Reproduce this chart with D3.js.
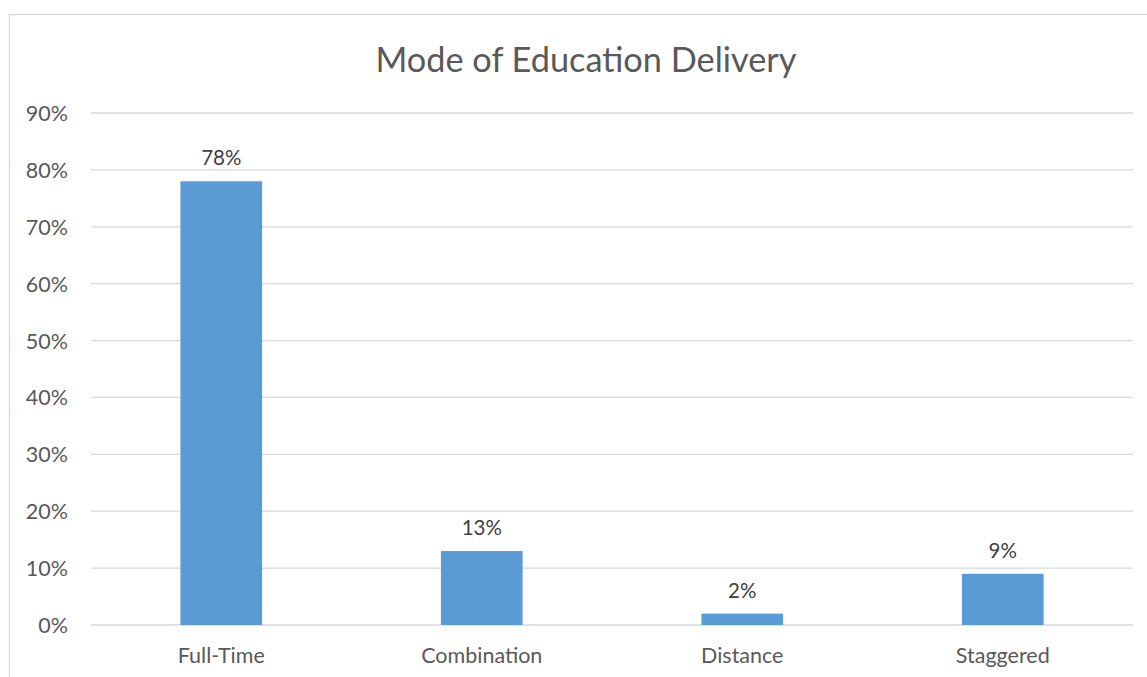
<!DOCTYPE html>
<html>
<head>
<meta charset="utf-8">
<script src="https://cdn.jsdelivr.net/npm/d3@7"></script>
<style>
  body { margin: 0; background: #fff; }
  svg { display: block; font-family: Lato, "Open Sans", sans-serif; }
</style>
</head>
<body>
<svg></svg>
<script>
const categories = ["Full-Time", "Combination", "Distance", "Staggered"];
const values = [78, 13, 2, 9];
const yTicks = [0, 10, 20, 30, 40, 50, 60, 70, 80, 90];

const width = 1147;
const height = 677;
const plotLeft = 91;
const plotRight = 1133;
const plotTop = 113;
const plotBottom = 625;

const svg = d3.select("svg").attr("width", width).attr("height", height);

// chart frame (right and bottom edges run off the picture)
svg.append("rect")
  .attr("x", 9.5).attr("y", 14.5)
  .attr("width", 1200).attr("height", 700)
  .attr("fill", "#fff")
  .attr("stroke", "#d9d9d9")
  .attr("stroke-width", 1.3);

const xScale = d3.scaleBand()
  .domain(categories)
  .range([plotLeft, plotRight])
  .paddingInner(0.6865)
  .paddingOuter(0.3433);

const yScale = d3.scaleLinear()
  .domain([0, 90])
  .range([plotBottom, plotTop]);

// gridlines
svg.append("g")
  .selectAll("line")
  .data(yTicks)
  .enter()
  .append("line")
  .attr("x1", plotLeft)
  .attr("x2", plotRight)
  .attr("y1", (d) => yScale(d))
  .attr("y2", (d) => yScale(d))
  .attr("stroke", "#d9d9d9")
  .attr("stroke-width", 1.3);

// y axis labels
const yAxis = d3.axisLeft(yScale).tickValues(yTicks).tickFormat((d) => d + "%").tickSize(0).tickPadding(0);
const yG = svg.append("g")
  .attr("transform", "translate(68, 0)")
  .call(yAxis);
yG.select(".domain").remove();
yG.selectAll("text")
  .attr("font-size", 21.5)
  .attr("font-family", "Lato, sans-serif")
  .attr("fill", "#595959")
  .attr("dy", "0.35em");

// bars
svg.append("g")
  .selectAll("rect")
  .data(values)
  .enter()
  .append("rect")
  .attr("x", (d, i) => xScale(categories[i]))
  .attr("y", (d) => yScale(d))
  .attr("width", xScale.bandwidth())
  .attr("height", (d) => plotBottom - yScale(d))
  .attr("fill", "#5b9bd5");

// value labels
svg.append("g")
  .selectAll("text")
  .data(values)
  .enter()
  .append("text")
  .attr("x", (d, i) => xScale(categories[i]) + xScale.bandwidth() / 2)
  .attr("y", (d) => yScale(d) - 16)
  .attr("text-anchor", "middle")
  .attr("font-size", 20.5)
  .attr("fill", "#404040")
  .text((d) => d + "%");

// x axis labels
const xAxis = d3.axisBottom(xScale).tickSize(0).tickPadding(0);
const xG = svg.append("g")
  .attr("transform", "translate(0, " + plotBottom + ")")
  .call(xAxis);
xG.select(".domain").remove();
xG.selectAll("text")
  .attr("y", 38)
  .attr("dy", 0)
  .attr("font-size", 21.5)
  .attr("font-family", "Lato, sans-serif")
  .attr("fill", "#595959");

// title
svg.append("text")
  .attr("x", 586)
  .attr("y", 72)
  .attr("text-anchor", "middle")
  .attr("font-size", 34.3)
  .attr("fill", "#595959")
  .text("Mode of Education Delivery");
</script>
</body>
</html>
